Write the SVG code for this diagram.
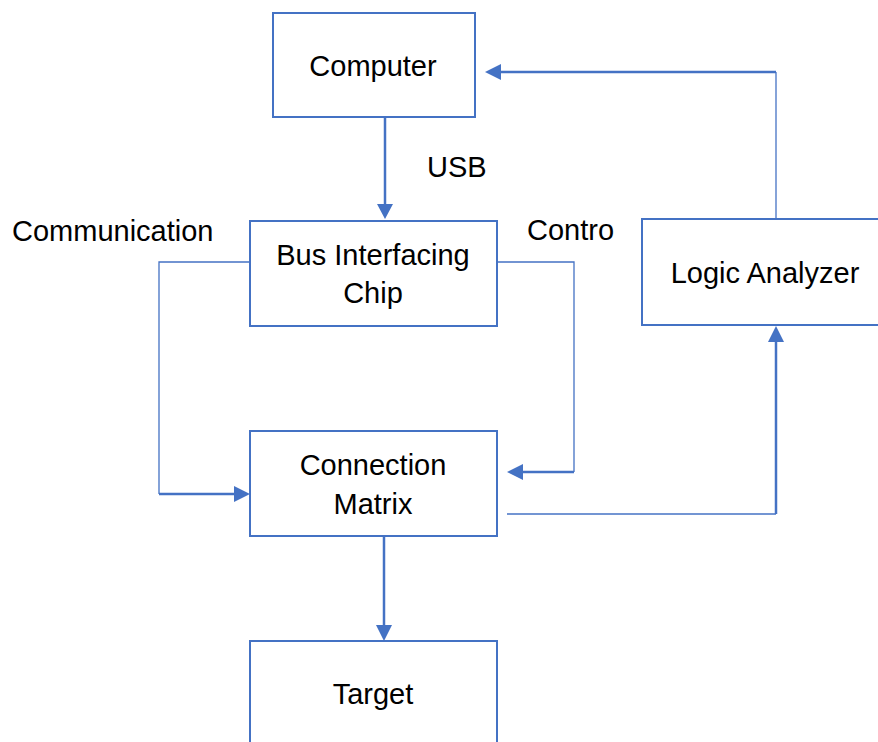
<svg xmlns="http://www.w3.org/2000/svg" width="878" height="742" viewBox="0 0 878 742">
<style>
.box{fill:#fff;stroke:#4472C4;stroke-width:2}
.t{font-family:"Liberation Sans",Arial,sans-serif;font-size:29px;fill:#000}
.c{text-anchor:middle}
.thin{fill:none;stroke:#4472C4;stroke-width:1.3}
.thick{fill:none;stroke:#4472C4;stroke-width:2.5}
</style>
<rect x="0" y="0" width="878" height="742" fill="#fff"/>
<g id="connectors">
<path class="thick" d="M385,117 V206"/>
<path d="M377,204 L393,204 L385,219 Z" fill="#4472C4"/>
<path class="thin" d="M250,262 H159 V494"/>
<path class="thick" d="M159,494 H236"/>
<path d="M234,486 L234,502 L250,494 Z" fill="#4472C4"/>
<path class="thin" d="M497,262 H574 V472"/>
<path class="thick" d="M574,472 H520"/>
<path d="M523,464 L523,480 L507,472 Z" fill="#4472C4"/>
<path class="thin" d="M507,514 H776"/>
<path class="thick" d="M776,514 V340"/>
<path d="M768,342 L784,342 L776,326 Z" fill="#4472C4"/>
<path class="thin" d="M776,219 V72"/>
<path class="thick" d="M776,72 H499"/>
<path d="M501,64 L501,80 L485,72 Z" fill="#4472C4"/>
<path class="thick" d="M384,536 V627"/>
<path d="M376,625 L392,625 L384,641 Z" fill="#4472C4"/>
</g>
<g id="computer">
<rect class="box" x="273" y="13" width="202" height="104"/>
<text class="t c" x="373" y="76">Computer</text>
</g>
<g id="bus">
<rect class="box" x="250" y="221" width="247" height="105"/>
<text class="t c" x="373" y="265">Bus Interfacing</text>
<text class="t c" x="373" y="303">Chip</text>
</g>
<g id="matrix">
<rect class="box" x="250" y="431" width="247" height="105"/>
<text class="t c" x="373" y="475">Connection</text>
<text class="t c" x="373" y="514">Matrix</text>
</g>
<g id="target">
<rect class="box" x="250" y="641" width="247" height="110"/>
<text class="t c" x="373" y="704">Target</text>
</g>
<g id="logic">
<rect class="box" x="642" y="219" width="246" height="106"/>
<text class="t c" x="765" y="283">Logic Analyzer</text>
</g>
<g id="labels">
<text class="t" x="427" y="177">USB</text>
<text class="t" x="12" y="241">Communication</text>
<text class="t" x="527" y="240">Contro</text>
</g>
</svg>
